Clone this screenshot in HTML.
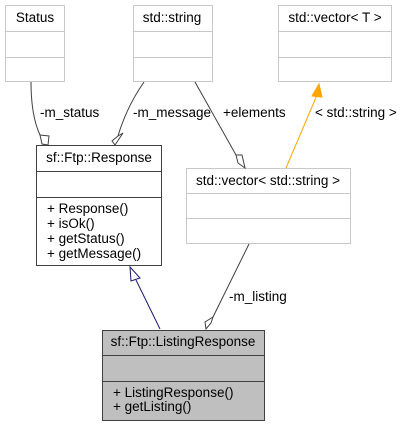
<!DOCTYPE html>
<html><head><style>body{margin:0;background:#fff}</style></head><body>
<svg width="403" height="427" xmlns="http://www.w3.org/2000/svg" font-family="Liberation Sans, sans-serif" font-size="13.5">
<g fill="#fff" stroke="#c8c8c8" stroke-width="1">
<rect x="5.5" y="5.5" width="59" height="76"/><line x1="5" y1="31.5" x2="65" y2="31.5"/><line x1="5" y1="57.5" x2="65" y2="57.5"/>
<rect x="133.5" y="5.5" width="79" height="76"/><line x1="133" y1="31.5" x2="213" y2="31.5"/><line x1="133" y1="57.5" x2="213" y2="57.5"/>
<rect x="278.5" y="5.5" width="113" height="76"/><line x1="278" y1="31.5" x2="392" y2="31.5"/><line x1="278" y1="57.5" x2="392" y2="57.5"/>
<rect x="186.5" y="168.5" width="164" height="75"/><line x1="186" y1="193.5" x2="351" y2="193.5"/><line x1="186" y1="218.5" x2="351" y2="218.5"/>
</g>
<g fill="#fff" stroke="#404040">
<rect x="36.5" y="145.5" width="125" height="120"/><line x1="36" y1="171.5" x2="162" y2="171.5"/><line x1="36" y1="197.5" x2="162" y2="197.5"/>
</g>
<g fill="#bfbfbf" stroke="#404040">
<rect x="102.5" y="330.5" width="162" height="90"/><line x1="102" y1="355.5" x2="265" y2="355.5"/><line x1="102" y1="381.5" x2="265" y2="381.5"/>
</g>
<g fill="#000">
<text x="35" y="22" text-anchor="middle">Status</text>
<text x="172" y="22" text-anchor="middle">std::string</text>
<text x="335" y="22" text-anchor="middle">std::vector&lt; T &gt;</text>
<text x="99" y="162" text-anchor="middle">sf::Ftp::Response</text>
<text x="268" y="185" text-anchor="middle">std::vector&lt; std::string &gt;</text>
<text x="183" y="346" text-anchor="middle">sf::Ftp::ListingResponse</text>
<text x="47" y="213">+ Response()</text>
<text x="47" y="228">+ isOk()</text>
<text x="47" y="243">+ getStatus()</text>
<text x="47" y="258">+ getMessage()</text>
<text x="113" y="397">+ ListingResponse()</text>
<text x="113" y="411">+ getListing()</text>
<text x="40" y="117">-m_status</text>
<text x="133" y="117">-m_message</text>
<text x="223" y="117">+elements</text>
<text x="315" y="117">&lt; std::string &gt;</text>
<text x="229" y="301">-m_listing</text>
</g>
<g fill="none" stroke="#404040">
<path d="M31,82 C31,105 34,122 40,135"/>
<path d="M144,82 C135,95 125,112 118,136"/>
<path d="M195,82 L236,155"/>
<path d="M249,244 L213,317"/>
</g>
<g fill="#fff" stroke="#404040">
<polygon points="40,135 49,136 48,145 42,144"/>
<polygon points="118,136 123,133 115,145 112,141"/>
<polygon points="236,155 242,155 245,168 238,163"/>
<polygon points="213,317 211,323 206,329 205,322 "/>
</g>
<path d="M286,168 L317,95" stroke="#ffa500" fill="none"/>
<polygon points="312,96 322,97 319,84" fill="#ffa500" stroke="#ffa500"/>
<path d="M160,329 L136,280" stroke="#191970" fill="none"/>
<polygon points="130,267 140,278 131,281" fill="#fff" stroke="#191970"/>
</svg>
</body></html>
